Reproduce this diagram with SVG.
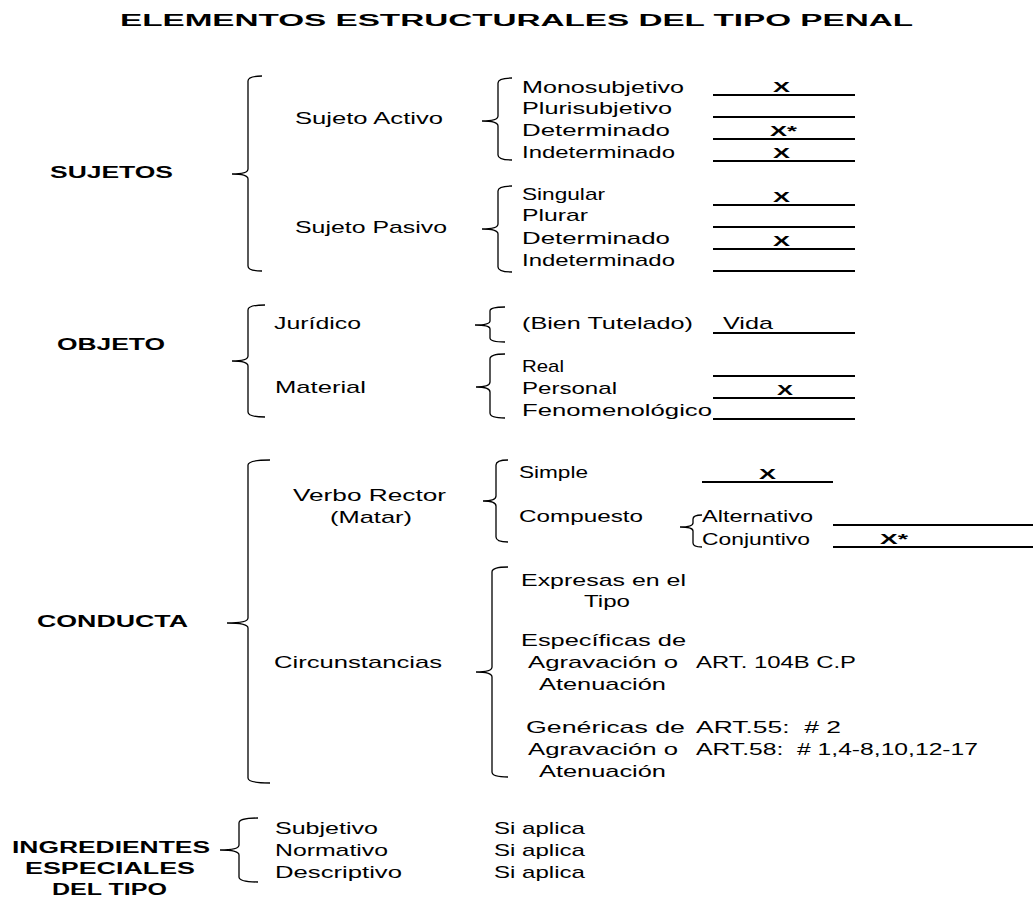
<svg xmlns="http://www.w3.org/2000/svg" width="1033" height="899" viewBox="0 0 1033 899">
<style>
text{font-family:"Liberation Sans",Arial,sans-serif;font-size:17px;fill:#000}
.b{font-weight:bold;font-size:16px}
.x{font-weight:bold;font-size:15.5px}
.br{fill:none;stroke:#000;stroke-width:1.3}
.ln{stroke:#000;stroke-width:2}
</style>
<rect width="1033" height="899" fill="#fff"/>
<g id="title"><text class="b" x="120" y="26" textLength="793" lengthAdjust="spacingAndGlyphs">ELEMENTOS ESTRUCTURALES DEL TIPO PENAL</text></g>

<g id="connectors">
<path class="br" d="M262,76 Q248,76 248,81 L248,169 Q248,174 232,174 Q248,174 248,179 L248,266 Q248,271 262,271"/>
<path class="br" d="M512,78 Q498,78 498,83 L498,116 Q498,121 482,121 Q498,121 498,126 L498,155 Q498,160 512,160"/>
<path class="br" d="M512,186 Q498,186 498,191 L498,224 Q498,229 482,229 Q498,229 498,234 L498,267 Q498,272 512,272"/>
<path class="br" d="M265,305 Q248,305 248,310 L248,356 Q248,361 232,361 Q248,361 248,366 L248,412 Q248,417 265,417"/>
<path class="br" d="M505,307 Q490,307 490,311 L490,321 Q490,325 475,325 Q490,325 490,329 L490,338 Q490,342 505,342"/>
<path class="br" d="M505,354 Q490,354 490,359 L490,382 Q490,387 476,387 Q490,387 490,392 L490,413 Q490,418 505,418"/>
<path class="br" d="M270,460 Q248,460 248,465 L248,618 Q248,623 227,623 Q248,623 248,628 L248,778 Q248,783 270,783"/>
<path class="br" d="M508,460 Q496,460 496,465 L496,496 Q496,501 483,501 Q496,501 496,506 L496,537 Q496,542 508,542"/>
<path class="br" d="M508,567 Q492,567 492,572 L492,667 Q492,672 476,672 Q492,672 492,677 L492,772 Q492,777 508,777"/>
<path class="br" d="M702,515 Q693,515 693,519 L693,523 Q693,527 680,527 Q693,527 693,531 L693,543 Q693,547 702,547"/>
<path class="br" d="M258,818 Q239,818 239,823 L239,845 Q239,850 220,850 Q239,850 239,855 L239,877 Q239,882 258,882"/>
</g>

<g id="answer-lines">
<line class="ln" x1="713" y1="95" x2="855" y2="95"/>
<line class="ln" x1="713" y1="117" x2="855" y2="117"/>
<line class="ln" x1="713" y1="139" x2="855" y2="139"/>
<line class="ln" x1="713" y1="161" x2="855" y2="161"/>
<line class="ln" x1="713" y1="205" x2="855" y2="205"/>
<line class="ln" x1="713" y1="227" x2="855" y2="227"/>
<line class="ln" x1="713" y1="249" x2="855" y2="249"/>
<line class="ln" x1="713" y1="271" x2="855" y2="271"/>
<line class="ln" x1="713" y1="333" x2="855" y2="333"/>
<line class="ln" x1="713" y1="376" x2="855" y2="376"/>
<line class="ln" x1="713" y1="398" x2="855" y2="398"/>
<line class="ln" x1="713" y1="419" x2="855" y2="419"/>
<line class="ln" x1="702" y1="482" x2="833" y2="482"/>
<line class="ln" x1="833" y1="525" x2="1033" y2="525"/>
<line class="ln" x1="833" y1="547" x2="1033" y2="547"/>
</g>

<g id="sujetos"><text class="b" x="50" y="178" textLength="123" lengthAdjust="spacingAndGlyphs">SUJETOS</text></g>
<g id="sujeto-activo"><text x="295" y="124" textLength="148" lengthAdjust="spacingAndGlyphs">Sujeto Activo</text></g>
<g id="sujeto-pasivo"><text x="295" y="233" textLength="152" lengthAdjust="spacingAndGlyphs">Sujeto Pasivo</text></g>
<g id="activo-items">
<text x="522" y="93" textLength="162" lengthAdjust="spacingAndGlyphs">Monosubjetivo</text>
<text x="522" y="114" textLength="150" lengthAdjust="spacingAndGlyphs">Plurisubjetivo</text>
<text x="522" y="136" textLength="148" lengthAdjust="spacingAndGlyphs">Determinado</text>
<text x="522" y="158" textLength="153" lengthAdjust="spacingAndGlyphs">Indeterminado</text>
<text class="x" x="773" y="92" textLength="17" lengthAdjust="spacingAndGlyphs">X</text>
<text class="x" x="770" y="136" textLength="27" lengthAdjust="spacingAndGlyphs">X*</text>
<text class="x" x="773" y="158" textLength="17" lengthAdjust="spacingAndGlyphs">X</text>
</g>
<g id="pasivo-items">
<text x="522" y="200" textLength="83" lengthAdjust="spacingAndGlyphs">Singular</text>
<text x="522" y="221" textLength="66" lengthAdjust="spacingAndGlyphs">Plurar</text>
<text x="522" y="244" textLength="148" lengthAdjust="spacingAndGlyphs">Determinado</text>
<text x="522" y="266" textLength="153" lengthAdjust="spacingAndGlyphs">Indeterminado</text>
<text class="x" x="773" y="202" textLength="17" lengthAdjust="spacingAndGlyphs">X</text>
<text class="x" x="773" y="246" textLength="17" lengthAdjust="spacingAndGlyphs">X</text>
</g>

<g id="objeto"><text class="b" x="57" y="350" textLength="108" lengthAdjust="spacingAndGlyphs">OBJETO</text></g>
<g id="juridico"><text x="274" y="329" textLength="87" lengthAdjust="spacingAndGlyphs">Jurídico</text></g>
<g id="material"><text x="275" y="393" textLength="91" lengthAdjust="spacingAndGlyphs">Material</text></g>
<g id="juridico-items">
<text x="522" y="329" textLength="171" lengthAdjust="spacingAndGlyphs">(Bien Tutelado)</text>
<text x="723" y="329" textLength="50" lengthAdjust="spacingAndGlyphs">Vida</text>
</g>
<g id="material-items">
<text x="522" y="372" textLength="42" lengthAdjust="spacingAndGlyphs">Real</text>
<text x="522" y="394" textLength="95" lengthAdjust="spacingAndGlyphs">Personal</text>
<text x="522" y="416" textLength="190" lengthAdjust="spacingAndGlyphs">Fenomenológico</text>
<text class="x" x="777" y="395" textLength="16" lengthAdjust="spacingAndGlyphs">X</text>
</g>

<g id="conducta"><text class="b" x="37" y="627" textLength="151" lengthAdjust="spacingAndGlyphs">CONDUCTA</text></g>
<g id="verbo-rector">
<text x="293" y="501" textLength="153" lengthAdjust="spacingAndGlyphs">Verbo Rector</text>
<text x="330" y="523" textLength="82" lengthAdjust="spacingAndGlyphs">(Matar)</text>
</g>
<g id="circunstancias"><text x="274" y="668" textLength="168" lengthAdjust="spacingAndGlyphs">Circunstancias</text></g>
<g id="verbo-items">
<text x="519" y="478" textLength="69" lengthAdjust="spacingAndGlyphs">Simple</text>
<text class="x" x="759" y="479" textLength="17" lengthAdjust="spacingAndGlyphs">X</text>
<text x="519" y="522" textLength="124" lengthAdjust="spacingAndGlyphs">Compuesto</text>
</g>
<g id="compuesto-items">
<text x="702" y="522" textLength="111" lengthAdjust="spacingAndGlyphs">Alternativo</text>
<text x="702" y="545" textLength="108" lengthAdjust="spacingAndGlyphs">Conjuntivo</text>
<text class="x" x="880" y="544" textLength="28" lengthAdjust="spacingAndGlyphs">X*</text>
</g>
<g id="circ-items">
<text x="521" y="586" textLength="165" lengthAdjust="spacingAndGlyphs">Expresas en el</text>
<text x="584" y="607" textLength="46" lengthAdjust="spacingAndGlyphs">Tipo</text>
<text x="521" y="646" textLength="165" lengthAdjust="spacingAndGlyphs">Específicas de</text>
<text x="528" y="668" textLength="150" lengthAdjust="spacingAndGlyphs">Agravación o</text>
<text x="696" y="668" textLength="160" lengthAdjust="spacingAndGlyphs">ART. 104B C.P</text>
<text x="539" y="690" textLength="127" lengthAdjust="spacingAndGlyphs">Atenuación</text>
<text x="526" y="733" textLength="159" lengthAdjust="spacingAndGlyphs">Genéricas de</text>
<text x="696" y="733" textLength="145" lengthAdjust="spacingAndGlyphs" xml:space="preserve">ART.55:  # 2</text>
<text x="528" y="755" textLength="150" lengthAdjust="spacingAndGlyphs">Agravación o</text>
<text x="696" y="755" textLength="282" lengthAdjust="spacingAndGlyphs" xml:space="preserve">ART.58:  # 1,4-8,10,12-17</text>
<text x="539" y="777" textLength="127" lengthAdjust="spacingAndGlyphs">Atenuación</text>
</g>

<g id="ingredientes">
<text class="b" x="12" y="853" textLength="198" lengthAdjust="spacingAndGlyphs">INGREDIENTES</text>
<text class="b" x="25" y="874" textLength="170" lengthAdjust="spacingAndGlyphs">ESPECIALES</text>
<text class="b" x="52" y="895" textLength="115" lengthAdjust="spacingAndGlyphs">DEL TIPO</text>
</g>
<g id="ingredientes-items">
<text x="275" y="834" textLength="103" lengthAdjust="spacingAndGlyphs">Subjetivo</text>
<text x="275" y="856" textLength="113" lengthAdjust="spacingAndGlyphs">Normativo</text>
<text x="275" y="878" textLength="127" lengthAdjust="spacingAndGlyphs">Descriptivo</text>
<text x="494" y="834" textLength="91" lengthAdjust="spacingAndGlyphs">Si aplica</text>
<text x="494" y="856" textLength="91" lengthAdjust="spacingAndGlyphs">Si aplica</text>
<text x="494" y="878" textLength="91" lengthAdjust="spacingAndGlyphs">Si aplica</text>
</g>
</svg>
